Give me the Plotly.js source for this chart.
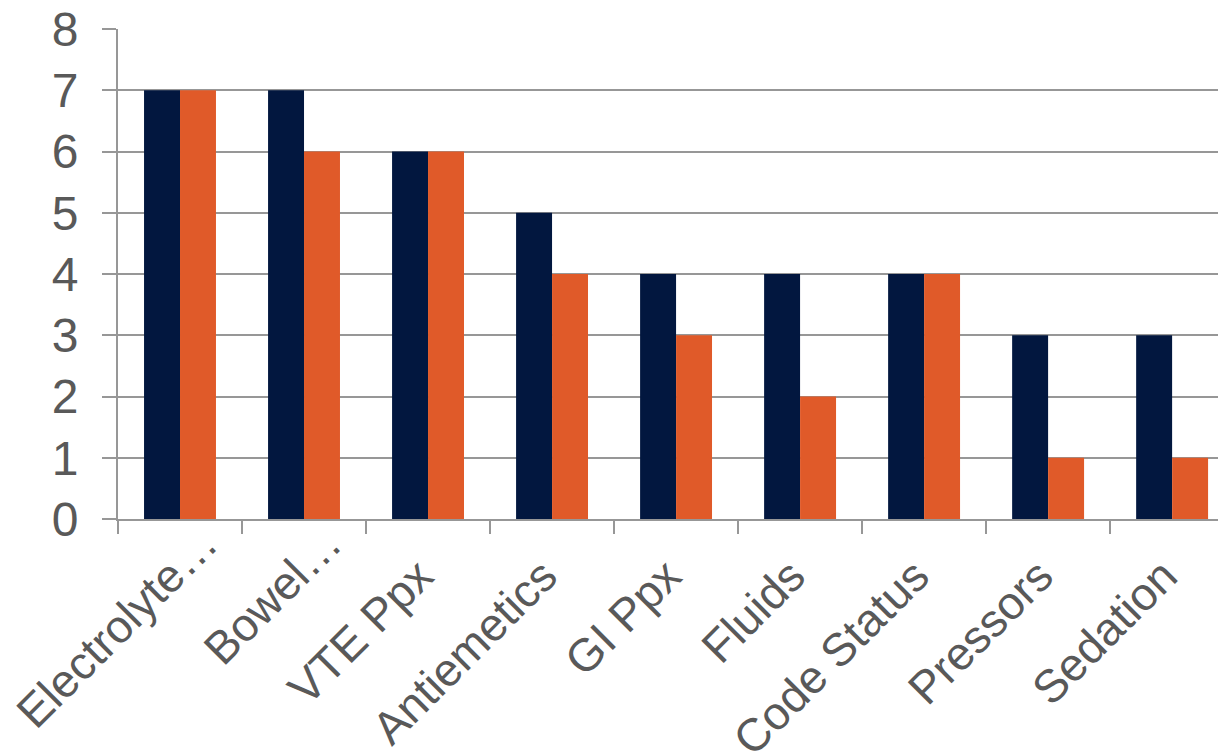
<!DOCTYPE html>
<html>
<head>
<meta charset="utf-8">
<script src="https://cdn.plot.ly/plotly-3.0.1.min.js"></script>
<style>html,body{margin:0;padding:0;background:#fff;}#chart{width:1218px;height:755px;}</style>
</head>
<body>
<div id="chart"></div>
<script>
const categories = ["Electrolyte…", "Bowel…", "VTE Ppx", "Antiemetics", "GI Ppx", "Fluids", "Code Status", "Pressors", "Sedation"];
const seriesA = [7, 7, 6, 5, 4, 4, 4, 3, 3];
const seriesB = [7, 6, 6, 4, 3, 2, 4, 1, 1];
const yTicks = [0, 1, 2, 3, 4, 5, 6, 7, 8];

const gridColor = "#979797";
const textColor = "#595959";

// label text: truncated labels sit further out along their baseline, as in the reference
const pad = "\u00a0\u00a0\u00a0\u2006";
const tickText = categories.map(c => c.endsWith("…") ? c : c + pad);

const data = [
  {type: "bar", x: categories, y: seriesA, marker: {color: "#02173F"}, hoverinfo: "x+y"},
  {type: "bar", x: categories, y: seriesB, marker: {color: "#E05A29"}, hoverinfo: "x+y"}
];

const layout = {
  width: 1218, height: 755,
  margin: {l: 118, r: 0, t: 29, b: 236, pad: 0},
  paper_bgcolor: "#ffffff", plot_bgcolor: "#ffffff",
  showlegend: false,
  barmode: "group",
  bargap: 0.42,
  bargroupgap: 0,
  font: {family: "Liberation Sans, Arial, sans-serif", color: textColor},
  xaxis: {
    type: "category",
    range: [-0.5, 8.37],
    autorange: false,
    tickmode: "array",
    tickvals: categories,
    ticktext: tickText,
    tickson: "boundaries",
    ticks: "outside", ticklen: 13, tickwidth: 2, tickcolor: gridColor,
    showline: true, linecolor: gridColor, linewidth: 2,
    showgrid: false, zeroline: false,
    tickangle: -45,
    ticklabelshift: 24,
    ticklabelstandoff: -23,
    tickfont: {size: 46, color: textColor}
  },
  yaxis: {
    range: [0, 8], autorange: false,
    tickvals: yTicks,
    ticks: "outside", ticklen: 14, tickwidth: 2, tickcolor: gridColor,
    showline: true, linecolor: gridColor, linewidth: 2,
    showgrid: true, gridcolor: gridColor, gridwidth: 2,
    zeroline: false,
    ticklabelstandoff: 14,
    tickfont: {size: 48, color: textColor}
  }
};

Plotly.newPlot("chart", data, layout, {displayModeBar: false, staticPlot: true});
</script>
</body>
</html>
